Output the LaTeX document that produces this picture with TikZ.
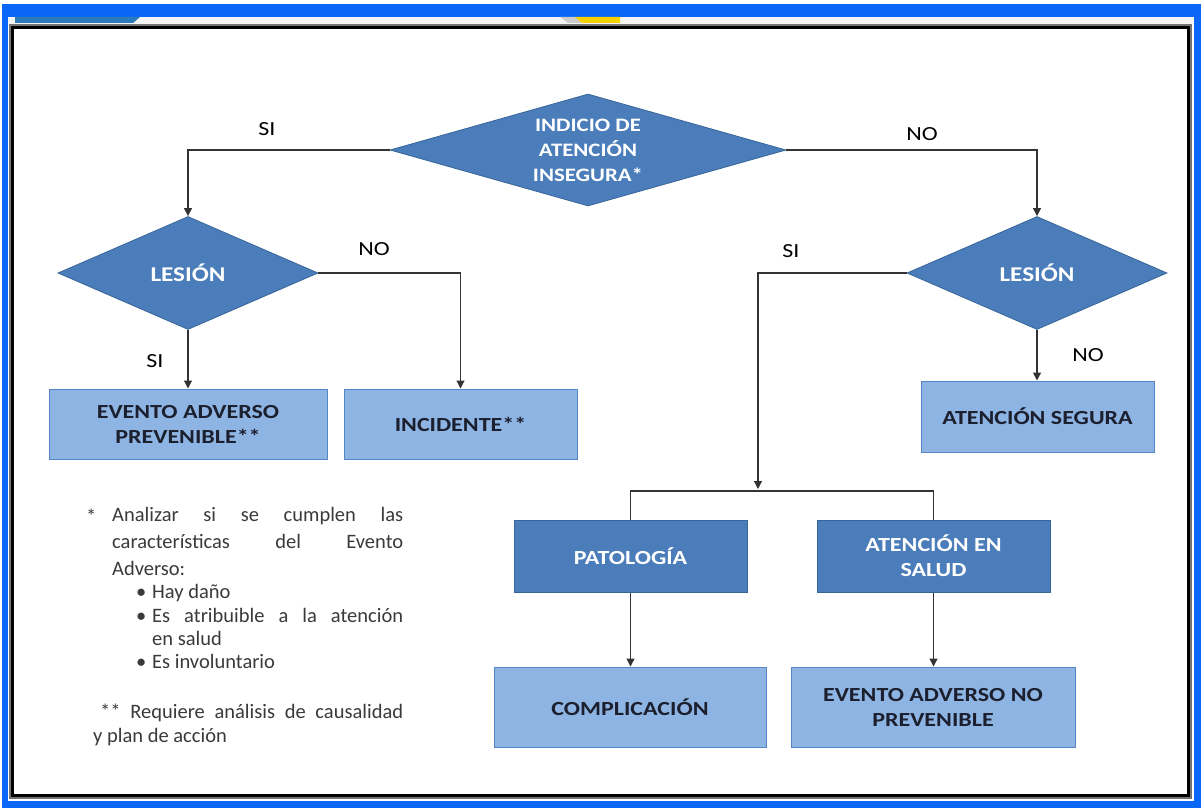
\documentclass[tikz,border=0pt]{standalone}
\usepackage{fontspec}
\setmainfont{Carlito}[FakeStretch=1.2]
\newfontfamily\notefont{Carlito}
\usetikzlibrary{shapes.geometric,arrows.meta}
\definecolor{frameblue}{HTML}{0A66F7}
\definecolor{darkfill}{HTML}{4A7DBA}
\definecolor{darkborder}{HTML}{38659A}
\definecolor{lightfill}{HTML}{8DB4E2}
\definecolor{lightborder}{HTML}{5485C6}
\definecolor{textdark}{HTML}{1C1F2E}
\definecolor{linecol}{HTML}{333333}
\definecolor{notecol}{HTML}{3A3A3A}
\definecolor{tealpatch}{HTML}{2B7BBA}
\definecolor{yellowpatch}{HTML}{F5D200}
\tikzset{
  dia/.style={diamond, draw=darkborder, line width=0.8pt, fill=darkfill, inner sep=0pt},
  dtext/.style={text=white, font=\bfseries\fontsize{19}{25}\selectfont, align=center},
  darkbox/.style={rectangle, draw=darkborder, line width=1pt, fill=darkfill, text=white,
     font=\bfseries\fontsize{20}{25}\selectfont, align=center},
  lightbox/.style={rectangle, draw=lightborder, line width=1pt, fill=lightfill, text=textdark,
     font=\bfseries\fontsize{20}{25}\selectfont, align=center},
  conn/.style={draw=linecol, line width=1.2pt},
  arr/.style={conn, -{Triangle[length=8pt,width=8pt]}},
  lbl/.style={text=black, font=\fontsize{20}{24}\selectfont, inner sep=0pt},
  note/.style={text=notecol, font=\notefont\fontsize{20.5}{24}\selectfont, inner sep=0pt, anchor=base west}
}
\begin{document}
\begin{tikzpicture}[x=1pt,y=-1pt]
\useasboundingbox (0,0) rectangle (1201,808);
% frame
\fill[white] (0,0) rectangle (1201,808);
\fill[frameblue] (2,4) rectangle (1201,808);
\fill[white] (8,17) rectangle (1194,801);
\fill[black!4] (8,17) rectangle (1194,24);
\fill[tealpatch] (15,17) -- (140,17) -- (133,23) -- (15,23) -- cycle;
\fill[black!20] (560,17) -- (575,17) -- (582,23) -- (568,23) -- cycle;
\fill[yellowpatch] (575,17) -- (620,17) -- (620,23) -- (582,23) -- cycle;
\draw[black!55, line width=1.5pt] (10,25) rectangle (1191,798);
\draw[black, line width=3pt] (12.5,28) rectangle (1188.5,795.5);

% diamonds
\node[dia, minimum width=396pt, minimum height=112pt] (d0) at (588,150) {};
\node[dtext] (t0) at (d0.center) {INDICIO DE\\ATENCIÓN\\INSEGURA*};
\node[dia, minimum width=260pt, minimum height=113pt] (d1) at (188,273) {};
\node[dtext, font=\bfseries\fontsize{21}{25}\selectfont] (t1) at (d1.center) {LESIÓN};
\node[dia, minimum width=260pt, minimum height=113pt] (d2) at (1037,273) {};
\node[dtext, font=\bfseries\fontsize{21}{25}\selectfont] (t2) at (d2.center) {LESIÓN};

% boxes
\node[lightbox, minimum width=278pt, minimum height=70pt] (b1) at (188,424) {EVENTO ADVERSO\\PREVENIBLE**};
\node[lightbox, minimum width=233pt, minimum height=70pt] (b2) at (460.5,424) {INCIDENTE**};
\node[lightbox, minimum width=233pt, minimum height=71pt] (b3) at (1037.5,416.5) {ATENCIÓN SEGURA};
\node[darkbox, minimum width=233pt, minimum height=72pt] (b4) at (630.5,556) {PATOLOGÍA};
\node[darkbox, minimum width=233pt, minimum height=72pt] (b5) at (933.5,556) {ATENCIÓN EN\\SALUD};
\node[lightbox, minimum width=272pt, minimum height=80pt] (b6) at (630,707) {COMPLICACIÓN};
\node[lightbox, minimum width=284pt, minimum height=80pt] (b7) at (933,707) {EVENTO ADVERSO NO\\PREVENIBLE};

% connectors
\coordinate (jt) at (758,489);
\coordinate (bar) at (758,491);
\draw[arr] (d0.west) -| (d1.north);
\draw[arr] (d0.east) -| (d2.north);
\draw[arr] (d1.south) -- (b1.north);
\draw[arr] (d1.east) -| (b2.north);
\draw[arr] (d2.south) -- (b3.north -| d2.south);
\draw[arr] (d2.west) -| (jt);
\draw[conn] (b4.north) |- (bar) -| (b5.north);
\draw[arr] (b4.south) -- (b6.north -| b4.south);
\draw[arr] (b5.south) -- (b7.north -| b5.south);

% branch labels
\node[lbl] (l1) at (267,129) {SI};
\node[lbl] (l2) at (922,134) {NO};
\node[lbl] (l3) at (374,249) {NO};
\node[lbl] (l4) at (155,361) {SI};
\node[lbl] (l5) at (791,251) {SI};
\node[lbl] (l6) at (1088,355) {NO};

% notes
\node[note] (n0) at (86,523) {*};
\node[note] (n1) at (112,521) {\makebox[291pt][s]{Analizar si se cumplen las}};
\node[note] (n2) at (112,548) {\makebox[291pt][s]{características del Evento}};
\node[note] (n3) at (112,575) {Adverso:};
\node[note] (n4) at (136,598) {•};
\node[note] (n5) at (152,598) {Hay daño};
\node[note] (n6) at (136,622) {•};
\node[note] (n7) at (152,622) {\makebox[251pt][s]{Es atribuible a la atención}};
\node[note] (n8) at (152,645) {en salud};
\node[note] (n9) at (136,668) {•};
\node[note] (n10) at (152,668) {Es involuntario};
\node[note] (n11) at (100,718) {\makebox[303pt][s]{** Requiere análisis de causalidad}};
\node[note] (n12) at (93,742) {y plan de acción};
\end{tikzpicture}
\end{document}
